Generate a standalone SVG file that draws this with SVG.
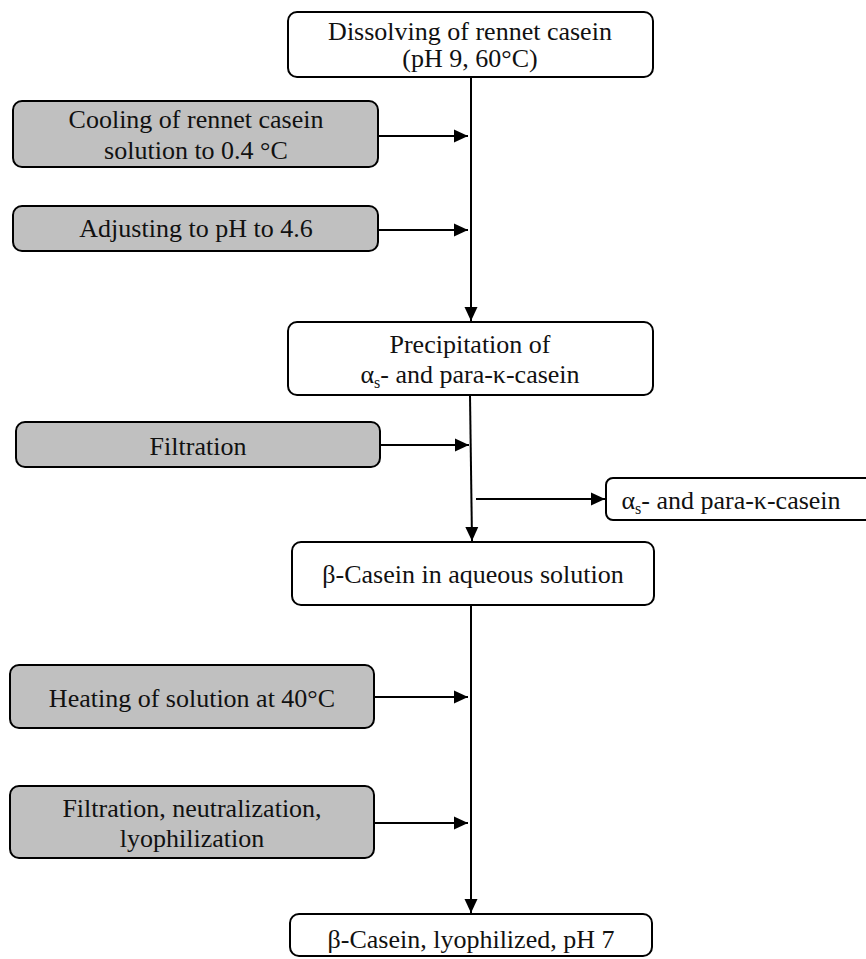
<svg xmlns="http://www.w3.org/2000/svg" width="866" height="959" viewBox="0 0 866 959">
<defs>
<marker id="ah" markerWidth="14" markerHeight="14" refX="14" refY="7" orient="auto" markerUnits="userSpaceOnUse" viewBox="0 0 14 14"><path d="M0,0.5 L14,7 L0,13.5 z" fill="#000"/></marker>
<style>
.w{fill:#fff;stroke:#000;stroke-width:2}
.g{fill:#c0c0c0;stroke:#000;stroke-width:2}
text{font-family:"Liberation Serif","Times New Roman",serif;font-size:26px;fill:#111;text-anchor:middle}
.c{stroke:#000;stroke-width:2;fill:none}
.sub{font-size:16px}
</style>
</defs>
<rect width="866" height="959" fill="#fff"/>
<g id="connectors">
<line class="c" x1="471" y1="78" x2="471" y2="321" marker-end="url(#ah)"/>
<line class="c" x1="378" y1="136" x2="468" y2="136" marker-end="url(#ah)"/>
<line class="c" x1="378" y1="230" x2="468" y2="230" marker-end="url(#ah)"/>
<line class="c" x1="470" y1="395" x2="472" y2="541" marker-end="url(#ah)"/>
<line class="c" x1="380" y1="445" x2="469" y2="445" marker-end="url(#ah)"/>
<line class="c" x1="476" y1="499" x2="605" y2="499" marker-end="url(#ah)"/>
<line class="c" x1="471" y1="605" x2="471" y2="913" marker-end="url(#ah)"/>
<line class="c" x1="374" y1="697" x2="468" y2="697" marker-end="url(#ah)"/>
<line class="c" x1="374" y1="823" x2="468" y2="823" marker-end="url(#ah)"/>
</g>
<g id="n1"><rect class="w" x="288" y="12" width="365" height="65" rx="9"/><text x="470" y="40">Dissolving of rennet casein</text><text x="470" y="67">(pH 9, 60°C)</text></g>
<g id="n2"><rect class="g" x="13" y="101" width="365" height="66" rx="9"/><text x="196" y="128">Cooling of rennet casein</text><text x="196" y="159">solution to 0.4 °C</text></g>
<g id="n3"><rect class="g" x="13" y="206" width="365" height="45" rx="9"/><text x="196" y="237">Adjusting to pH to 4.6</text></g>
<g id="n4"><rect class="w" x="288" y="322" width="365" height="73" rx="9"/><text x="470" y="353">Precipitation of</text><text x="470" y="383">α<tspan class="sub" dy="5">s</tspan><tspan dy="-5">- and para-κ-casein</tspan></text></g>
<g id="n5"><rect class="g" x="16" y="422" width="364" height="45" rx="9"/><text x="198" y="455">Filtration</text></g>
<g id="n6"><rect class="w" x="606" y="478" width="270" height="42" rx="7"/><text x="731" y="509">α<tspan class="sub" dy="5">s</tspan><tspan dy="-5">- and para-κ-casein</tspan></text></g>
<g id="n7"><rect class="w" x="292" y="542" width="362" height="63" rx="9"/><text x="473" y="583">β-Casein in aqueous solution</text></g>
<g id="n8"><rect class="g" x="10" y="665" width="364" height="63" rx="9"/><text x="192" y="707">Heating of solution at 40°C</text></g>
<g id="n9"><rect class="g" x="10" y="786" width="364" height="72" rx="9"/><text x="192" y="817">Filtration, neutralization,</text><text x="192" y="847">lyophilization</text></g>
<g id="n10"><rect class="w" x="290" y="914" width="362" height="42" rx="9"/><text x="471" y="948">β-Casein, lyophilized, pH 7</text></g>
</svg>
